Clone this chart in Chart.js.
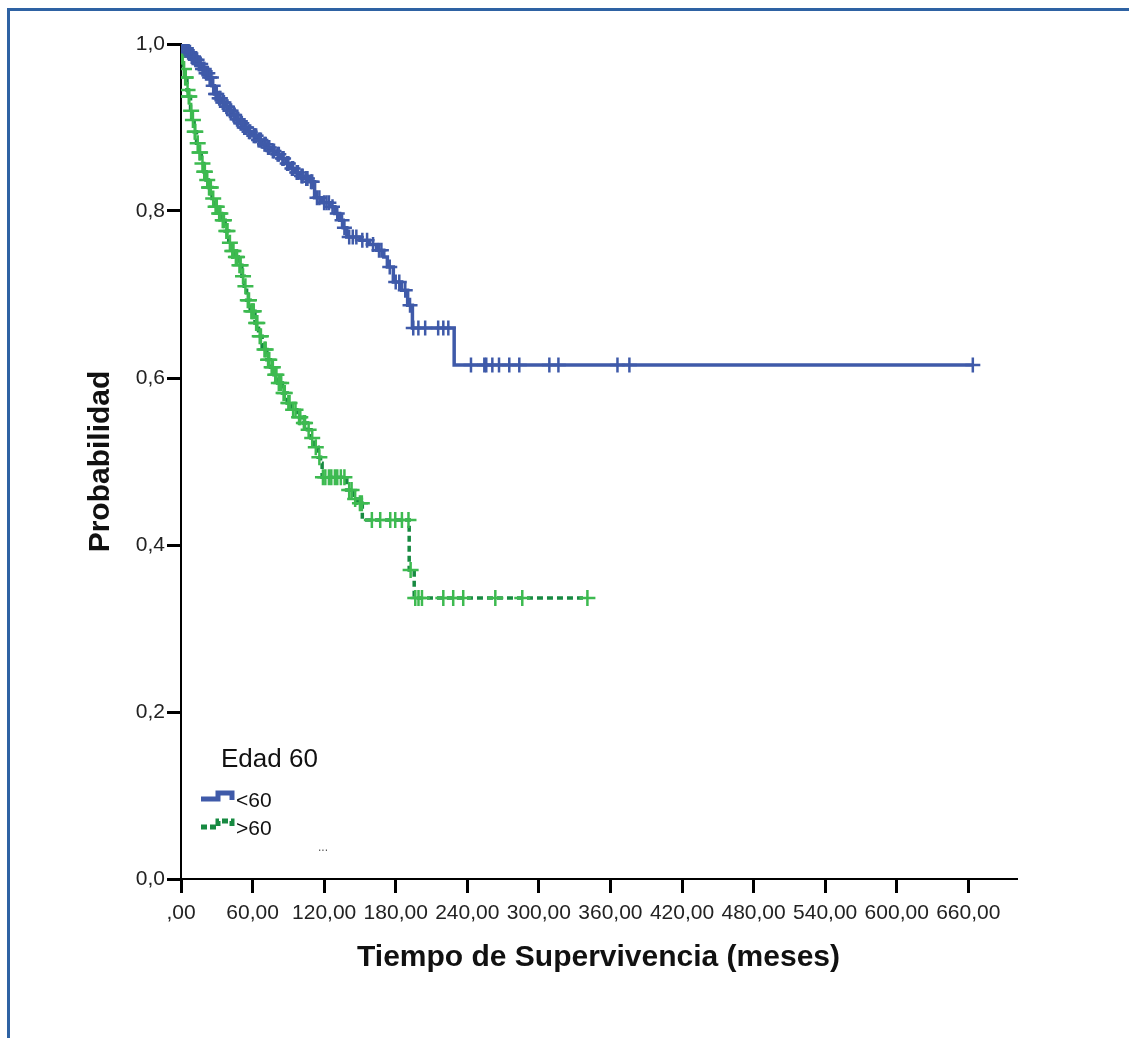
<!DOCTYPE html>
<html lang="es">
<head>
<meta charset="utf-8">
<title>Supervivencia por edad</title>
<script src="https://cdn.jsdelivr.net/npm/chart.js@4.4.1/dist/chart.umd.min.js"></script>
<style>
  html, body { margin: 0; padding: 0; background: #fff; }
  #marco {
    position: absolute; left: 7px; top: 8px; width: 1200px; height: 1100px;
    border-top: 3px solid #2e62a3; border-left: 3px solid #2e62a3;
  }
  #lienzo { position: absolute; left: 0; top: 0; }
</style>
</head>
<body>
<div id="marco"></div>
<canvas id="lienzo" width="1129" height="1038"></canvas>
<script>
// Curva de Kaplan-Meier, Edad < 60: tiempo del evento (meses) y supervivencia tras él
const tiemposMenor60 = [2, 5, 8, 11, 14, 17, 20, 23, 26, 28, 31, 34, 37, 40, 43, 46, 49, 52, 56, 60,
  64, 68, 72, 76, 80, 84, 88, 92, 96, 100, 104, 108, 112, 118, 125, 129, 133, 136, 139, 150,
  158, 164, 170, 173, 178, 185, 190, 194, 229];
const supervMenor60 = [0.995, 0.99, 0.985, 0.981, 0.976, 0.97, 0.965, 0.96, 0.95, 0.94, 0.935, 0.93, 0.925, 0.92, 0.915, 0.91, 0.905, 0.9, 0.895, 0.89,
  0.885, 0.88, 0.876, 0.872, 0.868, 0.863, 0.857, 0.851, 0.846, 0.842, 0.839, 0.835, 0.816, 0.81, 0.805, 0.797, 0.789, 0.78, 0.769, 0.765,
  0.76, 0.753, 0.745, 0.733, 0.715, 0.705, 0.687, 0.66, 0.6156];
// casos censurados (meses)
const censuraMenor60 = [1, 3, 4.5, 6, 7.5, 9, 10.5, 12, 13.5, 15, 16.5, 18, 19.5, 21, 22.5, 24, 25.5, 27, 29, 30,
  32, 33, 35, 36, 38, 39, 41, 42, 44, 45, 47, 48, 50, 51, 53, 54, 55, 57, 58, 61,
  62, 63, 65, 66, 67, 70, 71, 73, 74, 77, 78, 81, 82, 85, 86, 89, 90, 93, 94, 97,
  98, 101, 102, 105, 106, 109, 110, 114, 116, 120, 122, 124, 127, 131, 135, 137, 141, 144, 147, 152,
  156, 161, 166, 168, 175, 180, 183, 188, 192, 194.7, 199, 204.7, 215.6, 219.9, 224.1,
  243.1, 254.3, 255.9, 261, 266.6, 275.2, 283.6, 308.8, 316.4, 365.9, 375.9, 663.8];

// Edad > 60
const tiemposMayor60 = [1, 2, 3, 5, 6, 8, 9, 11, 13, 15, 17, 19, 21, 23, 26, 28, 31, 34, 37, 40,
  42, 45, 48, 51, 53, 55, 58, 62, 65, 68, 72, 75, 78, 81, 85, 89, 93, 97, 101, 106,
  109, 112, 115, 117, 118.3, 139, 145, 148, 152, 191.3, 195.5];
const supervMayor60 = [0.985, 0.97, 0.96, 0.945, 0.937, 0.92, 0.909, 0.895, 0.881, 0.87, 0.857, 0.847, 0.837, 0.828, 0.815, 0.805, 0.797, 0.789, 0.776, 0.762,
  0.752, 0.745, 0.735, 0.722, 0.71, 0.693, 0.68, 0.666, 0.65, 0.634, 0.622, 0.613, 0.604, 0.594, 0.582, 0.57, 0.562, 0.553, 0.546, 0.538,
  0.528, 0.517, 0.505, 0.498, 0.481, 0.466, 0.455, 0.45, 0.43, 0.37, 0.3365];
const censuraMayor60 = [0.5, 1, 1.5, 2.5, 3.5, 4, 5.5, 6.5, 7, 8.5, 10, 11.5, 12, 14, 15.5, 16, 18, 19.5, 20, 22,
  23.5, 24, 25, 27, 29, 30, 32, 33, 35, 36, 38, 39, 41, 43, 44, 46, 47, 49, 50, 52,
  54, 56, 57, 59, 60, 61, 63, 64, 66, 67, 70, 71, 73, 74, 76, 77, 79, 80, 82, 84,
  86, 87, 90, 91, 94, 96, 99, 100, 103, 104, 107, 110, 113, 116, 119, 121, 124, 126, 129, 131,
  134, 137, 141, 143, 146, 150, 151.6, 160, 167, 175.4, 179.6, 185.2, 190.7, 192.5, 196.4, 199.1, 202, 219.9, 228.2, 236.6,
  263.5, 286.1, 340.7];

const ticksTiempo = [0, 60, 120, 180, 240, 300, 360, 420, 480, 540, 600, 660];
const ticksProb = [0, 0.2, 0.4, 0.6, 0.8, 1.0];

const AZUL = "#3f5aa9";
const VERDE_LINEA = "#178a41";
const VERDE_MARCA = "#3dba50";
const FUENTE = "'Liberation Sans', Arial, Helvetica, sans-serif";

// valor de la curva escalonada en el tiempo t
function supervEn(tiempos, superv, t) {
  let s = 1;
  for (let i = 0; i < tiempos.length; i++) {
    if (tiempos[i] <= t) s = superv[i];
    else break;
  }
  return s;
}

// puntos de la curva: arranca en (0, 1) y termina en el último censurado
function curva(tiempos, superv, censura) {
  const pts = [{ x: 0, y: 1 }];
  for (let i = 0; i < tiempos.length; i++) pts.push({ x: tiempos[i], y: superv[i] });
  const fin = censura[censura.length - 1];
  pts.push({ x: fin, y: supervEn(tiempos, superv, fin) });
  return pts;
}

function marcas(tiempos, superv, censura) {
  return censura.map((t) => ({ x: t, y: supervEn(tiempos, superv, t) }));
}

// leyenda dibujada a mano, con el icono escalonado
const leyendaEdad = {
  id: "leyendaEdad",
  afterDraw(chart) {
    const ctx = chart.ctx;
    ctx.save();
    ctx.fillStyle = "#111";
    ctx.textBaseline = "alphabetic";
    ctx.font = "26px " + FUENTE;
    ctx.fillText("Edad 60", 221, 767);

    ctx.lineWidth = 5;
    ctx.lineJoin = "miter";
    ctx.strokeStyle = AZUL;
    ctx.beginPath();
    ctx.moveTo(201, 799);
    ctx.lineTo(218, 799);
    ctx.lineTo(218, 793);
    ctx.lineTo(232, 793);
    ctx.lineTo(232, 800);
    ctx.stroke();

    ctx.strokeStyle = VERDE_LINEA;
    ctx.setLineDash([6, 3]);
    ctx.beginPath();
    ctx.moveTo(201, 827);
    ctx.lineTo(218, 827);
    ctx.lineTo(218, 821);
    ctx.lineTo(232, 821);
    ctx.lineTo(232, 827);
    ctx.stroke();
    ctx.setLineDash([]);

    ctx.fillStyle = "#111";
    ctx.font = "21px " + FUENTE;
    ctx.fillText("<60", 236, 807);
    ctx.fillText(">60", 236, 835);

    ctx.fillStyle = "#555";
    ctx.font = "12px " + FUENTE;
    ctx.fillText("...", 318, 851);
    ctx.restore();
  },
};

new Chart(document.getElementById("lienzo"), {
  type: "scatter",
  data: {
    datasets: [
      {
        label: "<60",
        type: "line",
        data: curva(tiemposMenor60, supervMenor60, censuraMenor60),
        stepped: true,
        borderColor: AZUL,
        borderWidth: 3.5,
        pointRadius: 0,
        fill: false,
        order: 2,
      },
      {
        label: ">60",
        type: "line",
        data: curva(tiemposMayor60, supervMayor60, censuraMayor60),
        stepped: true,
        borderColor: VERDE_LINEA,
        borderWidth: 3.5,
        borderDash: [6, 4],
        pointRadius: 0,
        fill: false,
        order: 3,
      },
      {
        label: "<60 censurado",
        data: marcas(tiemposMenor60, supervMenor60, censuraMenor60),
        pointStyle: "cross",
        pointRadius: 7.5,
        borderColor: AZUL,
        borderWidth: 2.5,
        order: 0,
      },
      {
        label: ">60 censurado",
        data: marcas(tiemposMayor60, supervMayor60, censuraMayor60),
        pointStyle: "cross",
        pointRadius: 8,
        borderColor: VERDE_MARCA,
        borderWidth: 2.5,
        order: 1,
      },
    ],
  },
  options: {
    responsive: false,
    animation: false,
    events: [],
    layout: { padding: { left: 83, top: 44, right: 113, bottom: 62 } },
    plugins: {
      legend: { display: false },
      tooltip: { enabled: false },
    },
    scales: {
      x: {
        type: "linear",
        min: 0,
        max: 700,
        afterBuildTicks: (scale) => {
          scale.ticks = ticksTiempo.map((v) => ({ value: v }));
        },
        afterFit: (scale) => { scale.height = 97; },
        ticks: {
          color: "#222",
          font: { family: FUENTE, size: 21 },
          padding: 8,
          maxRotation: 0,
          autoSkip: false,
          callback: (v) => (v === 0 ? ",00" : v.toFixed(2).replace(".", ",")),
        },
        grid: { drawOnChartArea: false, color: "#000", lineWidth: 3, tickLength: 14 },
        border: { color: "#000", width: 2 },
        title: {
          display: true,
          text: "Tiempo de Supervivencia (meses)",
          color: "#111",
          font: { family: FUENTE, size: 30, weight: "bold" },
          padding: { top: 0, bottom: 0 },
        },
      },
      y: {
        min: 0,
        max: 1,
        afterBuildTicks: (scale) => {
          scale.ticks = ticksProb.map((v) => ({ value: v }));
        },
        afterFit: (scale) => { scale.width = 98; },
        ticks: {
          color: "#222",
          font: { family: FUENTE, size: 21 },
          padding: 2,
          callback: (v) => v.toFixed(1).replace(".", ","),
        },
        grid: { drawOnChartArea: false, color: "#000", lineWidth: 3, tickLength: 14 },
        border: { color: "#000", width: 2 },
        title: {
          display: true,
          text: "Probabilidad",
          color: "#111",
          font: { family: FUENTE, size: 30, weight: "bold" },
          padding: { top: 0, bottom: 0 },
        },
      },
    },
  },
  plugins: [leyendaEdad],
});
</script>
</body>
</html>
